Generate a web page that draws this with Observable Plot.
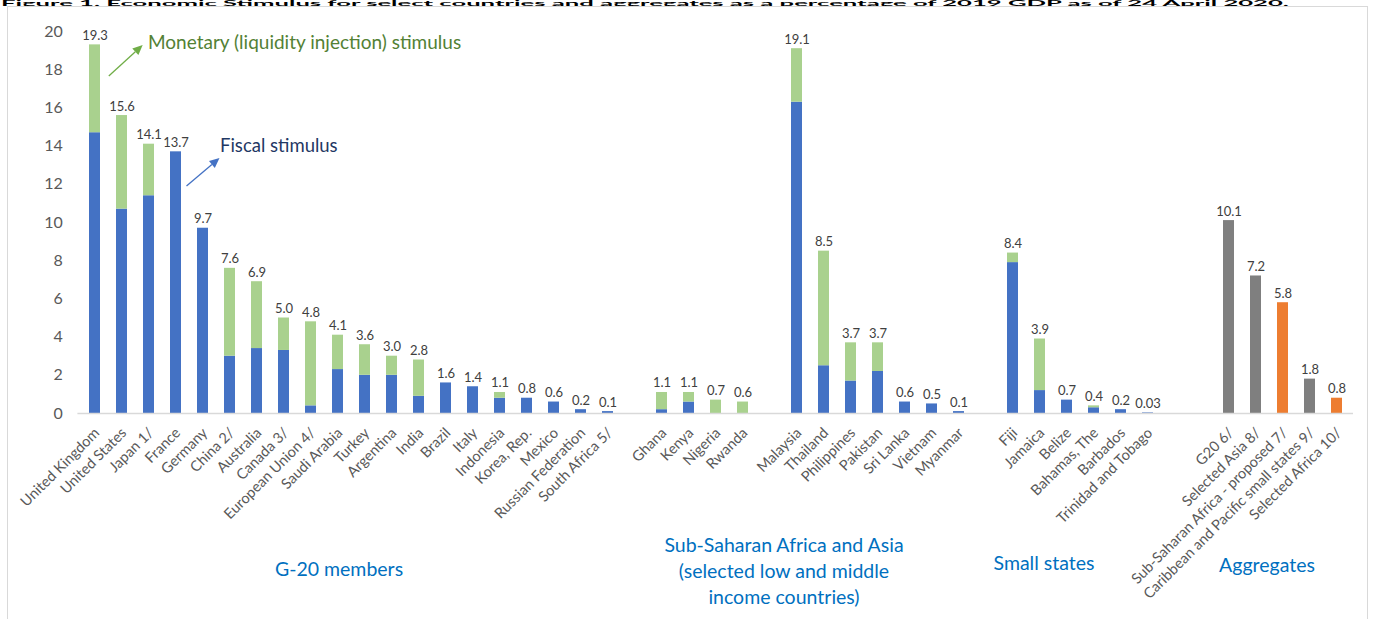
<!DOCTYPE html>
<html>
<head>
<meta charset="utf-8">
<script src="https://cdn.jsdelivr.net/npm/d3@7"></script>
<script src="https://cdn.jsdelivr.net/npm/@observablehq/plot@0.6"></script>
<style>
  html, body { margin: 0; padding: 0; background: #fff; }
  #wrap { position: relative; width: 1375px; height: 619px; overflow: hidden; font-family: Lato, "Open Sans", sans-serif; }
  #title { position: absolute; left: 0; top: 0; }
  #frame { position: absolute; left: 7px; top: 6px; width: 1361px; height: 640px; border: 1px solid #d9d9d9; box-sizing: border-box; }
  #chart { position: absolute; left: 0; top: 0; }
</style>
</head>
<body>
<div id="wrap">
  <svg id="title" width="1375" height="7"><text x="1" y="5.5" font-family="Lato, sans-serif" font-weight="bold" font-size="7" textLength="1288" lengthAdjust="spacingAndGlyphs" fill="#000">Figure 1. Economic Stimulus for select countries and aggregates as a percentage of 2019 GDP as of 24 April 2020.</text></svg>
  <div id="frame"></div>
  <div id="chart"></div>
</div>
<script>
// ---- data ----
const g20 = ["United Kingdom","United States","Japan 1/","France","Germany","China 2/","Australia","Canada 3/","European Union 4/","Saudi Arabia","Turkey","Argentina","India","Brazil","Italy","Indonesia","Korea, Rep.","Mexico","Russian Federation","South Africa 5/"];
const g20Fiscal = [14.7,10.7,11.4,13.7,9.7,3.0,3.4,3.3,0.4,2.3,2.0,2.0,0.9,1.6,1.4,0.8,0.8,0.6,0.2,0.1];
const g20Total  = [19.3,15.6,14.1,13.7,9.7,7.6,6.9,5.0,4.8,4.1,3.6,3.0,2.8,1.6,1.4,1.1,0.8,0.6,0.2,0.1];

const africa = ["Ghana","Kenya","Nigeria","Rwanda"];
const africaFiscal = [0.2,0.6,0,0];
const africaTotal  = [1.1,1.1,0.7,0.6];

const asia = ["Malaysia","Thailand","Philippines","Pakistan","Sri Lanka","Vietnam","Myanmar"];
const asiaFiscal = [16.3,2.5,1.7,2.2,0.6,0.5,0.1];
const asiaTotal  = [19.1,8.5,3.7,3.7,0.6,0.5,0.1];

const small = ["Fiji","Jamaica","Belize","Bahamas, The","Barbados","Trinidad and Tobago"];
const smallFiscal = [7.9,1.2,0.7,0.3,0.2,0.03];
const smallTotal  = [8.4,3.9,0.7,0.4,0.2,0.03];

const aggregates = ["G20 6/","Selected Asia 8/","Sub-Saharan Africa - proposed 7/","Caribbean and Pacific small states 9/","Selected Africa 10/"];
const aggregateTotal = [10.1,7.2,5.8,1.8,0.8];
const aggregateKind = ["Aggregate","Aggregate","Aggregate (Africa)","Aggregate","Aggregate (Africa)"];

const yTicks = [0,2,4,6,8,10,12,14,16,18,20];
const seriesNames = ["Fiscal","Monetary","Aggregate","Aggregate (Africa)"];
const seriesColors = ["#4472c4","#a9d18e","#7f7f7f","#ed7d31"];

// ---- build tables ----
const gaps = ["gap1","gap2","gap3","gap4","gap5"];
const xDomain = [...g20, gaps[0], ...africa, gaps[1], ...asia, gaps[2], ...small, gaps[3], gaps[4], ...aggregates];

const segments = [];
const totals = [];
function addGroup(names, fiscal, total) {
  names.forEach((n, i) => {
    segments.push({name: n, series: "Fiscal", y1: 0, y2: fiscal[i]});
    segments.push({name: n, series: "Monetary", y1: fiscal[i], y2: total[i]});
    totals.push({name: n, total: total[i]});
  });
}
addGroup(g20, g20Fiscal, g20Total);
addGroup(africa, africaFiscal, africaTotal);
addGroup(asia, asiaFiscal, asiaTotal);
addGroup(small, smallFiscal, smallTotal);
aggregates.forEach((n, i) => {
  segments.push({name: n, series: aggregateKind[i], y1: 0, y2: aggregateTotal[i]});
  totals.push({name: n, total: aggregateTotal[i]});
});
const labelNames = xDomain.filter(d => !gaps.includes(d));
const fmt = v => v < 0.1 ? String(v) : v.toFixed(1);

// annotation arrows (anchored to categories / values)
const arrows = [
  {x1: "United States", dx1: -12.7, y1: 17.64, x2: "Japan 1/", dx2: -5.8, y2: 19.27, color: "#70ad47"},
  {x1: "France", dx1: 11, y1: 11.88, x2: "Germany", dx2: 17, y2: 13.35, color: "#4472c4"}
];
function arrowLayer(index, scales) {
  const {x, y} = scales;
  const half = typeof x.bandwidth === "function" ? x.bandwidth() / 2 : 0;
  const g = d3.create("svg:g");
  for (const a of arrows) {
    const X1 = x(a.x1) + half + a.dx1, Y1 = y(a.y1);
    const X2 = x(a.x2) + half + a.dx2, Y2 = y(a.y2);
    const ang = Math.atan2(Y2 - Y1, X2 - X1);
    const L = 10, W = 4.5;
    const bx = X2 - L * Math.cos(ang), by = Y2 - L * Math.sin(ang);
    g.append("line").attr("x1", X1).attr("y1", Y1).attr("x2", bx).attr("y2", by)
      .attr("stroke", a.color).attr("stroke-width", 1.3);
    g.append("path")
      .attr("d", `M${X2},${Y2}L${bx + W * Math.sin(ang)},${by - W * Math.cos(ang)}L${bx - W * Math.sin(ang)},${by + W * Math.cos(ang)}Z`)
      .attr("fill", a.color);
  }
  return g.node();
}

const groupStyle = {frameAnchor: "bottom", lineAnchor: "middle", text: d => d, fontSize: 19.5, fill: "#0070c0"};

const chart = Plot.plot({
  width: 1375,
  height: 619,
  marginLeft: 77.4,
  marginRight: 22,
  marginTop: 31,
  marginBottom: 206,
  style: {fontFamily: "Lato, 'Open Sans', sans-serif", color: "#595959", background: "transparent", overflow: "visible"},
  x: {domain: xDomain, axis: null, paddingInner: 0.58, paddingOuter: 0.29, align: 0.5},
  y: {domain: [0, 20], axis: null},
  color: {domain: seriesNames, range: seriesColors},
  marks: [
    Plot.axisY(yTicks, {tickSize: 0, tickPadding: 15, fontSize: 16, fill: "#595959"}),
    Plot.barY(segments, {x: "name", y1: "y1", y2: "y2", fill: "series"}),
    Plot.ruleY([0], {stroke: "#d9d9d9", strokeWidth: 1.3}),
    Plot.text(totals, {x: "name", y: "total", text: d => fmt(d.total), dy: -5, lineAnchor: "bottom", fontSize: 13, fill: "#404040"}),
    Plot.text(labelNames, {x: d => d, frameAnchor: "bottom", text: d => d, rotate: -45, textAnchor: "end", lineAnchor: "middle", dx: 2, dy: 17, fontSize: 14.6, fill: "#595959"}),
    Plot.text(["Monetary (liquidity injection) stimulus"], {x: () => "Japan 1/", frameAnchor: "top", lineAnchor: "middle", text: d => d, textAnchor: "start", dx: -1, dy: 11, fontSize: 19, fill: "#538135"}),
    Plot.text(["Fiscal stimulus"], {x: () => "Germany", frameAnchor: "top", lineAnchor: "middle", text: d => d, textAnchor: "start", dx: 17, dy: 115, fontSize: 18.5, fill: "#1f3864"}),
    Plot.text(["G-20 members"], {...groupStyle, x: () => "Saudi Arabia", dx: 1, dy: 156}),
    Plot.text(["Sub-Saharan Africa and Asia\n(selected low and middle\nincome countries)"], {...groupStyle, x: () => "Malaysia", dx: -13, dy: 156, lineHeight: 1.35}),
    Plot.text(["Small states"], {...groupStyle, x: () => "Jamaica", dx: 4, dy: 150}),
    Plot.text(["Aggregates"], {...groupStyle, x: () => "Selected Asia 8/", dx: 11, dy: 152}),
    arrowLayer
  ]
});
document.getElementById("chart").appendChild(chart);
</script>
</body>
</html>
